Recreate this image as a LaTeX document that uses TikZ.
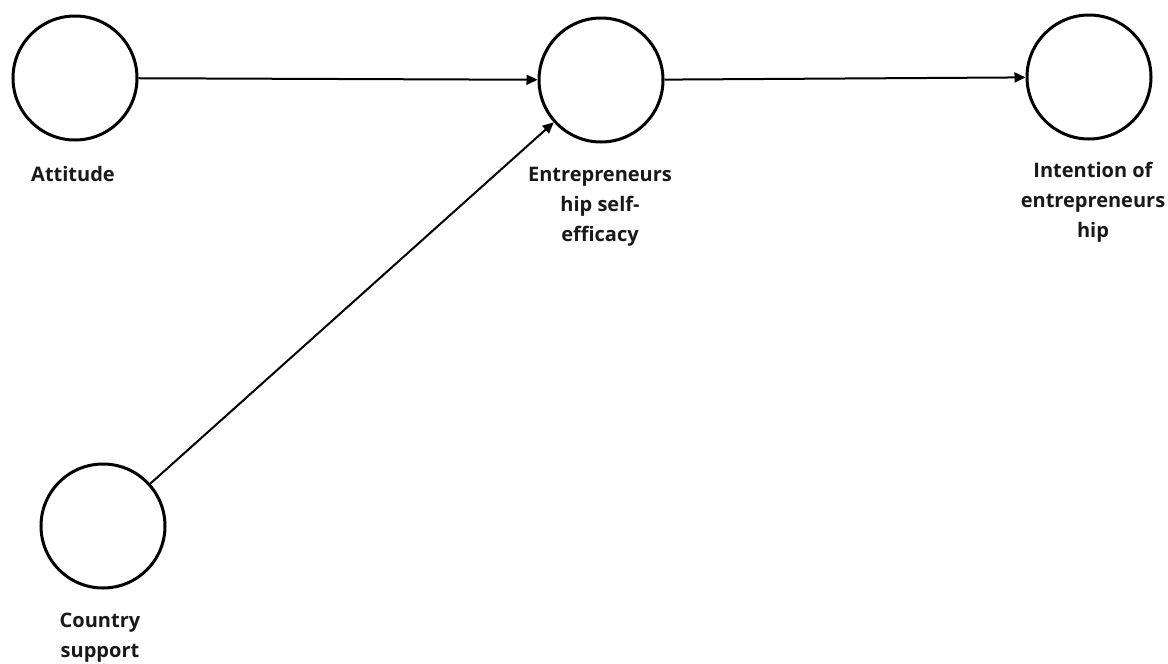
\documentclass[tikz,border=0pt]{standalone}
\usepackage{fontspec}
\setmainfont{Open Sans}
\usetikzlibrary{arrows.meta}
\begin{document}
\begin{tikzpicture}[x=1pt,y=-1pt,
  latent/.style={circle,draw=black,line width=3pt,minimum size=124pt,inner sep=0pt},
  lbl/.style={align=center,font=\fontsize{20}{30}\selectfont\bfseries,text=black!90},
  path/.style={draw=black,line width=2pt,-{Triangle[length=11pt,width=10pt]}}]
\useasboundingbox (0,0) rectangle (1168,664);
\fill[white] (0,0) rectangle (1168,664);
\node[latent] (att) at (75,78) {};
\node[latent] (ese) at (601,80) {};
\node[latent] (int) at (1089,77) {};
\node[latent] (cs) at (103,526) {};
\node[lbl] (latt) at (73,174) {Attitude};
\node[lbl] (lese) at (600,207) {Entrepreneurs\\hip self-\\efficacy};
\node[lbl] (lint) at (1093,202) {Intention of\\entrepreneurs\\hip};
\node[lbl] (lcs) at (100,638) {Country\\support};
\draw[path] (att) -- (ese);
\draw[path] (ese) -- (int);
\draw[path] (cs) -- (ese);
\end{tikzpicture}
\end{document}
